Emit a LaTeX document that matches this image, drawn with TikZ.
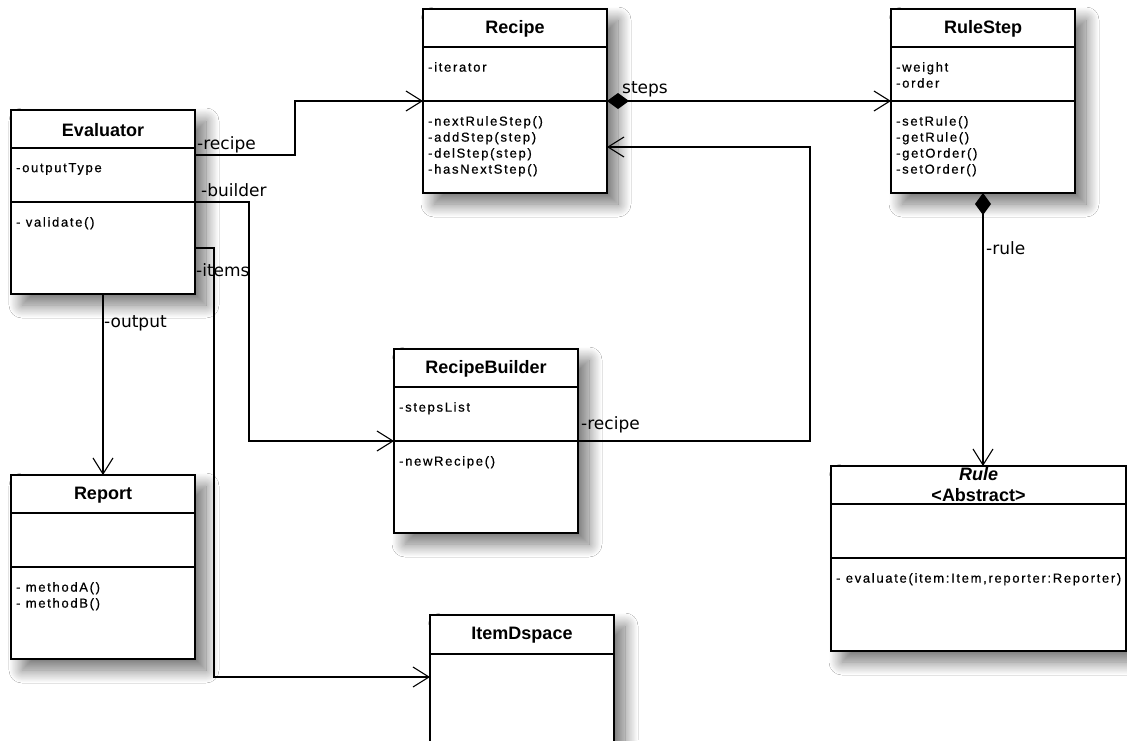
\documentclass[tikz,border=0pt]{standalone}
\usepackage{fontspec}
\setmainfont{Liberation Sans}
\newfontfamily\memfont[LetterSpace=13, FakeBold=0.6]{Liberation Sans}
\newfontfamily\lblfont{DejaVu Sans}
\usetikzlibrary{calc, arrows.meta, shadows.blur, positioning}

% class box: [options] name, top left corner, title, attributes, operations
\newcommand{\umlclass}[6][]{%
  \node[cls, #1] (#2) at (#3) {};
  \draw[sep] ([yshift=-38pt]#2.north west) -- ([yshift=-38pt]#2.north east);
  \draw[sep] ([yshift=-92pt]#2.north west) -- ([yshift=-92pt]#2.north east);
  \node[ttl] (#2-name) at ([yshift=-20pt]#2.north) {#4};
  \node[mem] (#2-attr) at ([xshift=5pt,yshift=-53pt]#2.north west) {#5};
  \node[mem] (#2-ops) at ([xshift=5pt,yshift=-107pt]#2.north west) {#6};
}

\begin{document}
\begin{tikzpicture}[
    x=1pt, y=-1pt,
    cls/.style={draw, line width=1.4pt, fill=white, anchor=north west, inner sep=0pt, outer sep=0pt,
      minimum width=184pt, minimum height=184pt,
      blur shadow={shadow xshift=11pt, shadow yshift=-11pt, shadow blur radius=13pt,
        shadow blur steps=16, shadow opacity=55}},
    sep/.style={line width=1.2pt},
    ttl/.style={font=\bfseries\fontsize{18}{21}\selectfont, align=center, inner sep=0pt},
    mem/.style={font=\memfont\fontsize{13}{16}\selectfont, align=left, anchor=north west, inner sep=0pt},
    lbl/.style={font=\lblfont\fontsize{17}{19}\selectfont, inner sep=0pt, anchor=west},
    assoc/.style={-{Straight Barb[length=16pt,width=20pt]}, line width=1.1pt},
    comp/.style={{Diamond[length=22pt,width=16pt]}-{Straight Barb[length=16pt,width=20pt]}, line width=1.1pt}
  ]
  \useasboundingbox[fill=white] (0,0) rectangle (1127,740);

  % classes
  \umlclass{eval}{11,110}{Evaluator}{-outputType}{- validate()}
  \umlclass{recipe}{423,9}{Recipe}{-iterator}{-nextRuleStep()\\-addStep(step)\\-delStep(step)\\-hasNextStep()}
  \umlclass{rulestep}{891,9}{RuleStep}{-weight\\-order}{-setRule()\\-getRule()\\-getOrder()\\-setOrder()}
  \umlclass{builder}{394,349}{RecipeBuilder}{-stepsList}{-newRecipe()}
  \umlclass{report}{11,475}{Report}{}{- methodA()\\- methodB()}
  \umlclass[minimum width=295pt, minimum height=185pt]{rule}{831,466}{\textit{Rule}\\\underline{<Abstract>}}{}{- evaluate(item:Item,reporter:Reporter)}

  \node[cls] (item) at (430,615) {};
  \draw[sep] ([yshift=-39pt]item.north west) -- ([yshift=-39pt]item.north east);
  \node[ttl] (item-name) at ([yshift=-20pt]item.north) {ItemDspace};

  % associations
  \draw[assoc] ([yshift=-45pt]eval.north east) -- ++(100,0) |- (recipe.west);
  \draw[assoc] (eval.east) -- ++(54,0) |- (builder.west);
  \draw[assoc] ([yshift=-46pt]eval.east) -- ++(19,0) |- ([yshift=30pt]item.west);
  \draw[assoc] (eval.south) -- (report.north);
  \draw[assoc] (builder.east) -- ++(232,0) |- ([yshift=-46pt]recipe.east);
  \draw[comp] (recipe.east) -- (rulestep.west);
  \draw[comp] (rulestep.south) -- (rulestep.south |- rule.north);

  % role names
  \node[lbl] (eval-recipe) at ([xshift=2pt,yshift=-35pt]eval.north east) {-recipe};
  \node[lbl] (eval-builder) at ([xshift=6pt,yshift=12pt]eval.east) {-builder};
  \node[lbl] (eval-items) at ([xshift=1pt,yshift=-68pt]eval.east) {-items};
  \node[lbl] (eval-output) at ([xshift=1pt,yshift=-29pt]eval.south) {-output};
  \node[lbl] (recipe-steps) at ([xshift=15pt,yshift=12pt]recipe.east) {steps};
  \node[lbl] (builder-recipe) at ([xshift=3pt,yshift=16pt]builder.east) {-recipe};
  \node[lbl] (rulestep-rule) at ([xshift=3pt,yshift=-55pt]rulestep.south) {-rule};
\end{tikzpicture}
\end{document}
